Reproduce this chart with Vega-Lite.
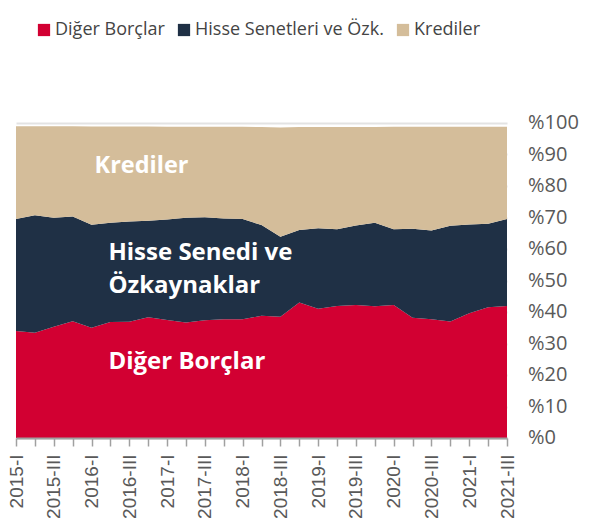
{
  "$schema": "https://vega.github.io/schema/vega-lite/v6.json",
  "width": 491,
  "height": 315,
  "autosize": {"type": "none"},
  "padding": {"left": 16, "top": 123, "right": 91, "bottom": 89},
  "background": "white",
  "config": {
    "view": {"stroke": null},
    "font": "Open Sans",
    "axisY": {"labels": false, "ticks": false, "domain": false, "grid": true, "gridColor": "#e3e3e3", "gridWidth": 2, "title": null, "orient": "right"}
  },
  "datasets": {
    "bounds": [
      {"q": "2015-I", "red": 34.0, "navy": 69.5, "total": 99.0},
      {"q": "2015-II", "red": 33.4, "navy": 70.7, "total": 99.0},
      {"q": "2015-III", "red": 35.3, "navy": 69.9, "total": 99.0},
      {"q": "2015-IV", "red": 37.1, "navy": 70.3, "total": 99.0},
      {"q": "2016-I", "red": 35.0, "navy": 67.7, "total": 98.9},
      {"q": "2016-II", "red": 36.8, "navy": 68.3, "total": 98.9},
      {"q": "2016-III", "red": 36.9, "navy": 68.7, "total": 98.9},
      {"q": "2016-IV", "red": 38.3, "navy": 69.0, "total": 98.9},
      {"q": "2017-I", "red": 37.5, "navy": 69.4, "total": 98.8},
      {"q": "2017-II", "red": 36.7, "navy": 69.9, "total": 98.8},
      {"q": "2017-III", "red": 37.4, "navy": 70.1, "total": 98.8},
      {"q": "2017-IV", "red": 37.7, "navy": 69.7, "total": 98.8},
      {"q": "2018-I", "red": 37.7, "navy": 69.5, "total": 98.8},
      {"q": "2018-II", "red": 38.8, "navy": 67.6, "total": 98.7},
      {"q": "2018-III", "red": 38.5, "navy": 63.9, "total": 98.6},
      {"q": "2018-IV", "red": 43.0, "navy": 66.0, "total": 98.7},
      {"q": "2019-I", "red": 41.0, "navy": 66.6, "total": 98.7},
      {"q": "2019-II", "red": 41.9, "navy": 66.3, "total": 98.7},
      {"q": "2019-III", "red": 42.2, "navy": 67.5, "total": 98.7},
      {"q": "2019-IV", "red": 41.8, "navy": 68.3, "total": 98.7},
      {"q": "2020-I", "red": 42.2, "navy": 66.3, "total": 98.8},
      {"q": "2020-II", "red": 38.2, "navy": 66.4, "total": 98.8},
      {"q": "2020-III", "red": 37.7, "navy": 65.9, "total": 98.8},
      {"q": "2020-IV", "red": 37.0, "navy": 67.4, "total": 98.8},
      {"q": "2021-I", "red": 39.6, "navy": 67.8, "total": 98.8},
      {"q": "2021-II", "red": 41.5, "navy": 68.0, "total": 98.8},
      {"q": "2021-III", "red": 41.9, "navy": 69.5, "total": 98.8}
    ],
    "labels": [
      {"q": "2016-II", "v": 58.7, "t": "Hisse Senedi ve"},
      {"q": "2016-II", "v": 48.2, "t": "Özkaynaklar"},
      {"q": "2016-II", "v": 24.0, "t": "Diğer Borçlar"}
    ],
    "toplabel": [
      {"q": "2016-I", "v": 86.5, "t": "Krediler"}
    ],
    "yticks": [
      {"q": "2021-III", "v": 0, "t": "%0"},
      {"q": "2021-III", "v": 10, "t": "%10"},
      {"q": "2021-III", "v": 20, "t": "%20"},
      {"q": "2021-III", "v": 30, "t": "%30"},
      {"q": "2021-III", "v": 40, "t": "%40"},
      {"q": "2021-III", "v": 50, "t": "%50"},
      {"q": "2021-III", "v": 60, "t": "%60"},
      {"q": "2021-III", "v": 70, "t": "%70"},
      {"q": "2021-III", "v": 80, "t": "%80"},
      {"q": "2021-III", "v": 90, "t": "%90"},
      {"q": "2021-III", "v": 100, "t": "%100"}
    ]
  },
  "layer": [
    {
      "data": {"name": "bounds"},
      "transform": [
        {"calculate": "datum.red", "as": "s0"},
        {"calculate": "datum.navy - datum.red", "as": "s1"},
        {"calculate": "datum.total - datum.navy", "as": "s2"},
        {"fold": ["s0", "s1", "s2"], "as": ["key", "value"]},
        {"calculate": "datum.key === 's0' ? 'Diğer Borçlar' : datum.key === 's1' ? 'Hisse Senetleri ve Özk.' : 'Krediler'", "as": "series"}
      ],
      "mark": {"type": "area", "interpolate": "linear"},
      "encoding": {
        "x": {
          "field": "q",
          "type": "ordinal",
          "sort": null,
          "scale": {"type": "point", "padding": 0},
          "axis": {
            "title": null,
            "labelAngle": -90,
            "labelFont": "Liberation Sans",
            "labelFontSize": 19,
            "labelColor": "#595959",
            "labelPadding": 8,
            "labelOverlap": false,
            "labelExpr": "test(regexp('-(II|IV)$'), datum.value) ? '' : datum.value",
            "domainColor": "#a0a0a0",
            "domainWidth": 2,
            "tickColor": "#a0a0a0",
            "tickWidth": 1.5,
            "tickSize": 8,
            "grid": false,
            "zindex": 1
          }
        },
        "y": {
          "field": "value",
          "type": "quantitative",
          "stack": "zero",
          "scale": {"domain": [0, 100], "nice": false}
        },
        "color": {
          "field": "series",
          "type": "nominal",
          "scale": {
            "domain": ["Diğer Borçlar", "Hisse Senetleri ve Özk.", "Krediler"],
            "range": ["#D20032", "#1F3045", "#D4BD9A"]
          },
          "legend": {
            "title": null,
            "orient": "none",
            "direction": "horizontal",
            "legendX": 19,
            "legendY": -102,
            "symbolType": "square",
            "symbolSize": 150,
            "symbolStrokeWidth": 0,
            "symbolOpacity": 1,
            "labelFont": "Open Sans",
            "labelFontSize": 18,
            "labelLimit": 0,
            "labelColor": "#444444",
            "labelOffset": 2,
            "columnPadding": 10
          }
        },
        "order": {"field": "key", "type": "nominal"}
      }
    },
    {
      "data": {"name": "labels"},
      "mark": {"type": "text", "align": "left", "baseline": "middle", "font": "Open Sans", "fontWeight": "bold", "fontSize": 24, "color": "white", "dx": -2},
      "encoding": {
        "x": {"field": "q", "type": "ordinal", "sort": null},
        "y": {"field": "v", "type": "quantitative"},
        "text": {"field": "t"}
      }
    },
    {
      "data": {"name": "toplabel"},
      "mark": {"type": "text", "align": "left", "baseline": "middle", "font": "Open Sans", "fontWeight": "bold", "fontSize": 23.5, "color": "white", "dx": 3},
      "encoding": {
        "x": {"field": "q", "type": "ordinal", "sort": null},
        "y": {"field": "v", "type": "quantitative"},
        "text": {"field": "t"}
      }
    },
    {
      "data": {"name": "yticks"},
      "mark": {"type": "text", "align": "left", "baseline": "middle", "font": "Open Sans", "fontSize": 20, "color": "#595959", "dx": 21},
      "encoding": {
        "x": {"field": "q", "type": "ordinal", "sort": null},
        "y": {"field": "v", "type": "quantitative"},
        "text": {"field": "t"}
      }
    }
  ]
}
